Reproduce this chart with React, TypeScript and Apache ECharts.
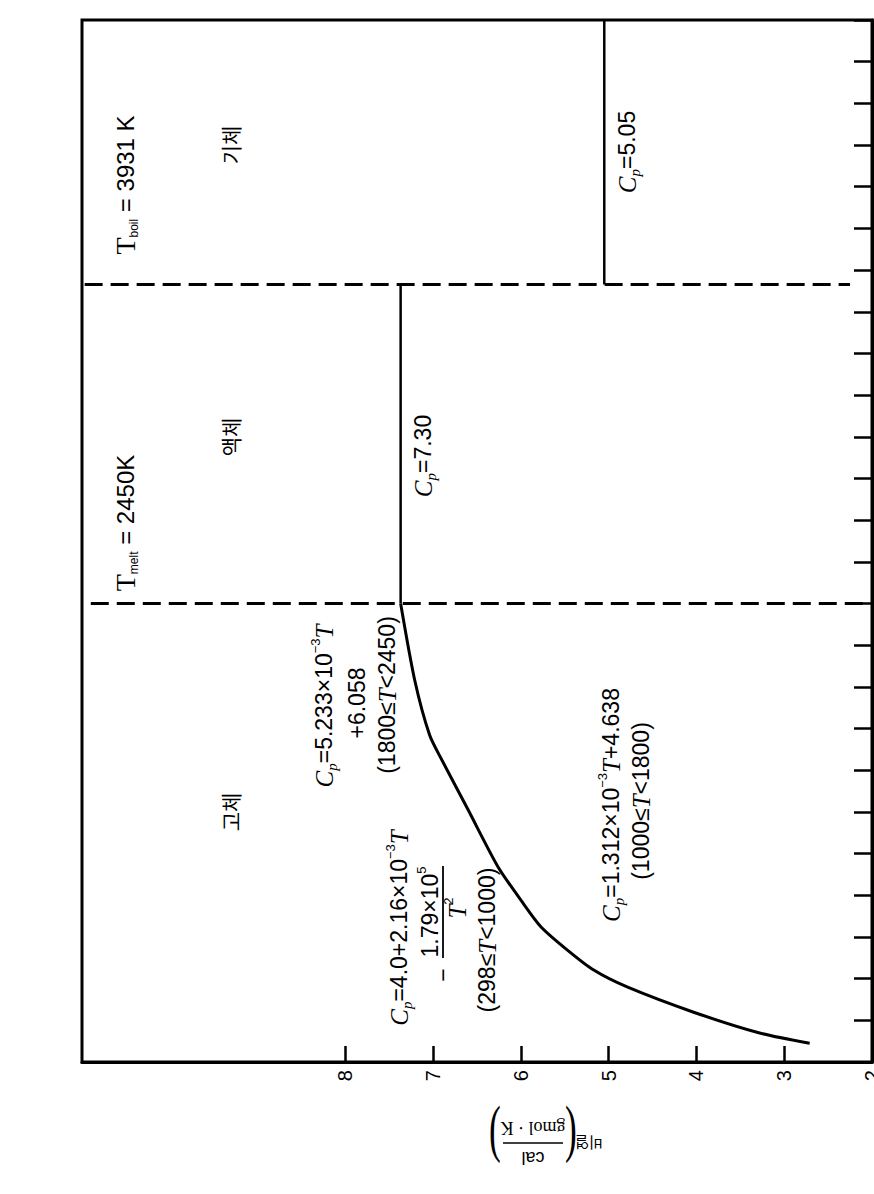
import React, { useEffect, useRef } from "react";
import * as echarts from "echarts";

// ---- data ----
const cpTickLabels = [2, 3, 4, 5, 6, 7, 8];
const cpTickMarks = [3, 4, 5, 6, 7, 8];
const cpMin = 2;
const cpMax = 11;
const tMin = 200;
const tMax = 5200;
const tInterval = 200;

// solid phase curve (T in K, Cp in cal/gmol K)
const solidT = [290, 339, 440, 560, 641, 737, 848, 977, 1136, 1409, 1649, 1769, 2033, 2400];
const solidCp = [2.71, 3.28, 4.04, 4.79, 5.17, 5.47, 5.77, 6.0, 6.26, 6.6, 6.9, 7.04, 7.21, 7.37];

// liquid & gas segments
const meltT = 2400; // drawn position of the melting line
const boilT = 3931;
const liquidCp = 7.37;
const gasCp = 5.05;

const SANS = "'Liberation Sans', Arial, sans-serif";
const SERIF = "'Liberation Serif', 'Times New Roman', serif";
const KR = "'Noto Sans CJK KR', sans-serif";

const rich = {
  c: { fontFamily: SERIF, fontStyle: "italic", fontSize: 25, lineHeight: 30, fill: "#000" },
  s: { fontFamily: SERIF, fontStyle: "italic", fontSize: 15, lineHeight: 15, verticalAlign: "bottom", fill: "#000" },
  n: { fontFamily: SANS, fontSize: 23, lineHeight: 30, fill: "#000" },
  u: { fontFamily: SANS, fontSize: 13, lineHeight: 13, verticalAlign: "top", fill: "#000" },
  t: { fontFamily: SERIF, fontStyle: "italic", fontSize: 25, lineHeight: 30, fill: "#000" },
  T: { fontFamily: SERIF, fontSize: 28, lineHeight: 30, fill: "#000" },
  N: { fontFamily: SANS, fontSize: 24, lineHeight: 30, fill: "#000" },
  b: { fontFamily: SANS, fontSize: 12, lineHeight: 12, verticalAlign: "bottom", fill: "#000" },
};

function vtext(x: number, y: number, text: string, extra: any = {}) {
  return {
    type: "text",
    x,
    y,
    rotation: Math.PI / 2,
    z: 10,
    style: {
      text,
      rich,
      fill: "#000",
      fontFamily: SANS,
      fontSize: 23,
      align: "center",
      verticalAlign: "middle",
      ...extra,
    },
  };
}

function krText(x: number, y: number, text: string) {
  return {
    type: "text",
    x,
    y,
    rotation: Math.PI / 2,
    z: 10,
    style: { text, fill: "#000", fontFamily: KR, fontSize: 21, align: "center", verticalAlign: "middle" },
  };
}

export default function App() {
  const ref = useRef<HTMLDivElement>(null);

  useEffect(() => {
    document.body.style.margin = "0";
    const chart = echarts.init(ref.current!, null, { renderer: "svg" });

    const solidData = solidT.map((t, i) => [solidCp[i], t]);

    const option: any = {
      animation: false,
      backgroundColor: "#fff",
      grid: {
        left: 82,
        right: 2,
        top: 20,
        bottom: 132,
        show: true,
        borderColor: "#000",
        borderWidth: 3,
        outerBoundsMode: "none",
      },
      xAxis: {
        type: "value",
        min: cpMin,
        max: cpMax,
        interval: 1,
        inverse: true,
        position: "bottom",
        splitLine: { show: false },
        axisLine: { show: true, lineStyle: { color: "#000", width: 3 } },
        axisTick: {
          show: true,
          inside: true,
          length: 16,
          customValues: cpTickMarks,
          lineStyle: { color: "#000", width: 2.5 },
        },
        axisLabel: {
          show: true,
          customValues: cpTickLabels,
          rotate: 90,
          margin: 8,
          color: "#000",
          fontFamily: SANS,
          fontSize: 20,
        },
      },
      yAxis: {
        type: "value",
        min: tMin,
        max: tMax,
        interval: tInterval,
        position: "right",
        splitLine: { show: false },
        axisLine: { show: true, lineStyle: { color: "#000", width: 3 } },
        axisTick: { show: true, inside: true, length: 18, lineStyle: { color: "#000", width: 2.5 } },
        axisLabel: { show: false },
      },
      series: [
        {
          type: "line",
          data: solidData,
          smooth: 0.25,
          symbol: "none",
          lineStyle: { color: "#000", width: 3 },
        },
        {
          type: "line",
          data: [
            [liquidCp, meltT],
            [liquidCp, boilT],
          ],
          symbol: "none",
          lineStyle: { color: "#000", width: 2.5 },
        },
        {
          type: "line",
          data: [
            [gasCp, boilT],
            [gasCp, tMax],
          ],
          symbol: "none",
          lineStyle: { color: "#000", width: 2.5 },
        },
        {
          type: "line",
          data: [
            [10.9, meltT],
            [cpMin, meltT],
          ],
          symbol: "none",
          lineStyle: { color: "#000", width: 3, type: [18, 8] },
        },
        {
          type: "line",
          data: [
            [10.97, boilT],
            [2.25, boilT],
          ],
          symbol: "none",
          lineStyle: { color: "#000", width: 3, type: [18, 8] },
        },
      ],
      graphic: [
        vtext(125, 185, "{T|T}{b|boil}{N| = 3931 K}"),
        krText(230, 145, "기체"),
        vtext(627, 152, "{c|C}{s|p}{n|=5.05}"),
        vtext(125, 523, "{T|T}{b|melt}{N| = 2450K}"),
        krText(230, 437, "액체"),
        vtext(423, 456, "{c|C}{s|p}{n|=7.30}"),
        krText(230, 812, "고체"),
        vtext(324, 706, "{c|C}{s|p}{n|=5.233×10}{u|−3}{t|T}"),
        vtext(357, 703, "{n|+6.058}"),
        vtext(387, 695, "{n|(1800≤}{t|T}{n|<2450)}"),
        vtext(399, 928, "{c|C}{s|p}{n|=4.0+2.16×10}{u|−3}{t|T}"),
        vtext(430, 912, "{n|1.79×10}{u|5}"),
        {
          type: "line",
          z: 10,
          shape: { x1: 443, y1: 866, x2: 443, y2: 958 },
          style: { stroke: "#000", lineWidth: 1.8 },
        },
        vtext(443, 975, "{n|−}"),
        vtext(457, 908, "{t|T}{u|2}"),
        vtext(487, 940, "{n|(298≤}{t|T}{n|<1000)}"),
        vtext(611, 805, "{c|C}{s|p}{n|=1.312×10}{u|−3}{t|T}{n|+4.638}"),
        vtext(641, 801, "{n|(1000≤}{t|T}{n|<1800)}"),
        {
          type: "group",
          x: 533,
          y: 1143,
          rotation: Math.PI,
          children: [
            {
              type: "text",
              x: -56,
              y: 0,
              style: { text: "비열", fontFamily: KR, fontSize: 15, fill: "#000", align: "center", verticalAlign: "middle" },
            },
            {
              type: "text",
              x: -38,
              y: 2,
              scaleX: 0.55,
              style: { text: "(", fontFamily: SERIF, fontSize: 64, fill: "#000", align: "center", verticalAlign: "middle" },
            },
            {
              type: "text",
              x: 0,
              y: -15,
              style: { text: "cal", fontFamily: SANS, fontSize: 18, fill: "#000", align: "center", verticalAlign: "middle" },
            },
            {
              type: "line",
              shape: { x1: -30, y1: 0, x2: 30, y2: 0 },
              style: { stroke: "#000", lineWidth: 1.6 },
            },
            {
              type: "text",
              x: 0,
              y: 15,
              style: { text: "gmol · K", fontFamily: SERIF, fontSize: 18, fill: "#000", align: "center", verticalAlign: "middle" },
            },
            {
              type: "text",
              x: 38,
              y: 2,
              scaleX: 0.55,
              style: { text: ")", fontFamily: SERIF, fontSize: 64, fill: "#000", align: "center", verticalAlign: "middle" },
            },
          ],
        },
      ],
    };

    chart.setOption(option);
    return () => chart.dispose();
  }, []);

  return <div ref={ref} style={{ width: 874, height: 1194 }} />;
}
